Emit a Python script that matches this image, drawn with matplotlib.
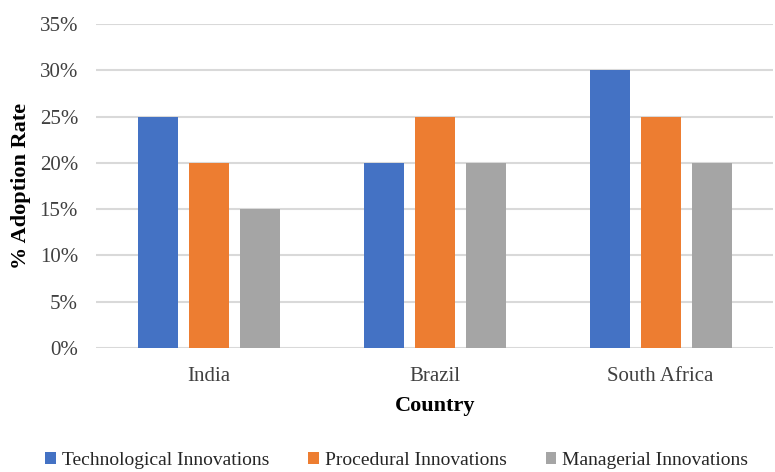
import matplotlib
matplotlib.use("Agg")
import matplotlib.pyplot as plt
import numpy as np
from matplotlib.ticker import PercentFormatter

countries = ["India", "Brazil", "South Africa"]
series_names = ["Technological Innovations", "Procedural Innovations", "Managerial Innovations"]
technological = [25, 20, 30]
procedural = [20, 25, 25]
managerial = [15, 20, 20]
colors = ["#4472C4", "#ED7D31", "#A5A5A5"]

plt.rcParams['font.family'] = ['Liberation Serif', 'DejaVu Serif']

fig = plt.figure(figsize=(7.75, 4.72), dpi=100)
ax = fig.add_axes([0.124, 0.263, 0.874, 0.686])

x = np.arange(len(countries))
width = 0.177
step = 0.226
for i, (vals, name) in enumerate(zip([technological, procedural, managerial], series_names)):
    ax.bar(x + (i - 1) * step, vals, width, color=colors[i], label=name, zorder=3)

ax.set_xlim(-0.5, 2.5)
ax.set_ylim(0, 35)
ax.set_yticks(np.arange(0, 36, 5))
ax.yaxis.set_major_formatter(PercentFormatter(decimals=0))
ax.set_xticks(x)
ax.set_xticklabels(countries)
ax.tick_params(axis='both', length=0, labelsize=15, colors='#404040')
ax.tick_params(axis='y', pad=13)
ax.tick_params(axis='x', pad=14)
ax.grid(axis='y', color='#D9D9D9', linewidth=1.5, zorder=0)
for s in ax.spines.values():
    s.set_visible(False)
ax.set_ylabel("% Adoption Rate", fontsize=16, fontweight='bold', labelpad=6)
ax.set_xlabel("Country", fontsize=16, fontweight='bold', labelpad=7)

fig.legend(loc='center', bbox_to_anchor=(0.512, 0.024), ncol=3, frameon=False,
           fontsize=14, handlelength=0.55, handleheight=0.55, handletextpad=0.3, columnspacing=2.0,
           labelcolor='#262626', borderaxespad=0, borderpad=0)

fig.savefig("out.png", dpi=100)
